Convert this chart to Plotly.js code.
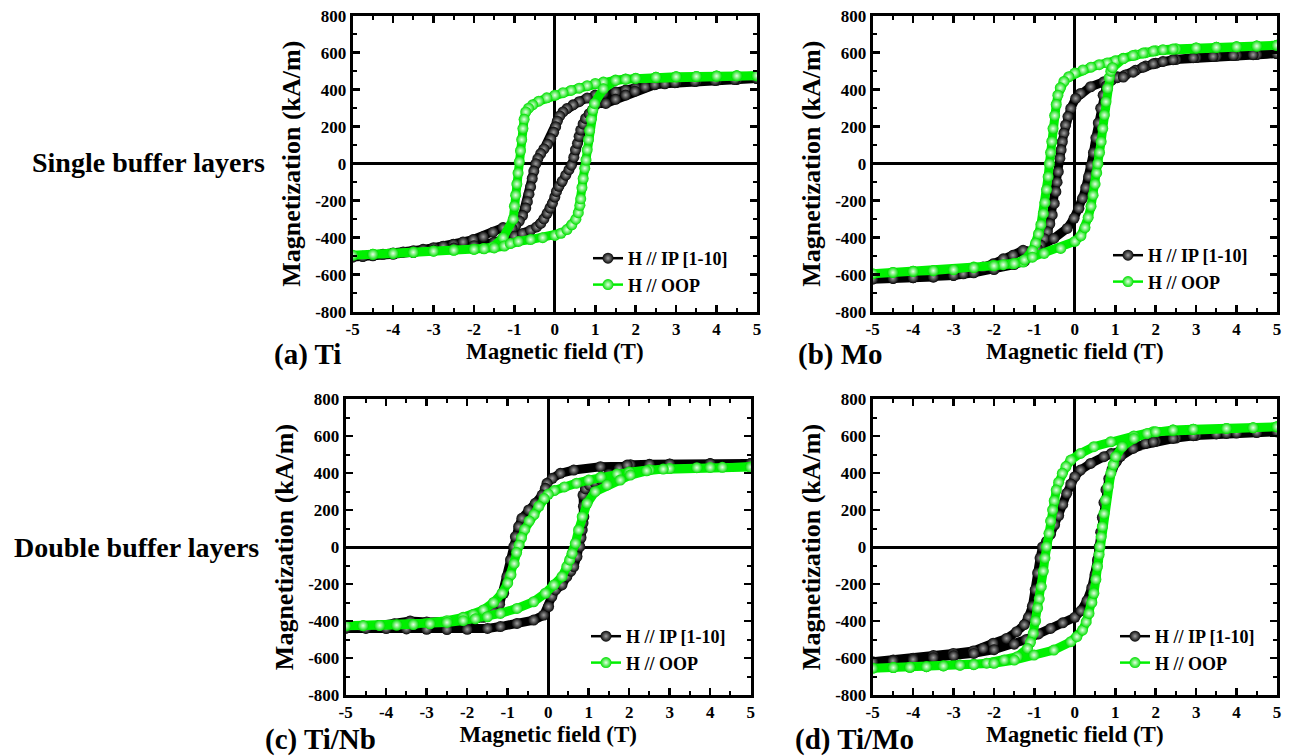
<!DOCTYPE html>
<html>
<head>
<meta charset="utf-8">
<script src="https://cdn.plot.ly/plotly-3.0.1.min.js"></script>
<style>html,body{margin:0;padding:0;background:#fff;}#chart{width:1290px;height:756px;}</style>
</head>
<body>
<div id="chart"></div>
<script>
// ---------- tick labels ----------
const xTickVals = [-5,-4,-3,-2,-1,0,1,2,3,4,5];
const xTickText = ['-5','-4','-3','-2','-1','0','1','2','3','4','5'];
const yTickVals = [-800,-600,-400,-200,0,200,400,600,800];
const yTickText = ['-800','-600','-400','-200','0','200','400','600','800'];

const seriesNames = ['H // IP [1-10]', 'H // OOP'];
const panelLabels = ['(a) Ti', '(b) Mo', '(c) Ti/Nb', '(d) Ti/Mo'];
const rowLabels = ['Single buffer layers', 'Double buffer layers'];
const xTitle = 'Magnetic field (T)';
const yTitle = 'Magnetization (kA/m)';

// ---------- (a) Ti ----------
const H_a_IP = [5,4.5,4,3.5,3,2.5,2,1.75,1.5,1.2,1.0,0.8,0.6,0.45,0.3,0.2,0.12,0.06,0.02,-0.03,-0.1,-0.18,-0.27,-0.35,-0.42,-0.47,-0.52,-0.56,-0.6,-0.64,-0.68,-0.72,-0.8,-0.88,-0.97,-1.06,-1.28,-1.53,-1.77,-2.02,-2.27,-2.51,-2.76,-3.0,-3.26,-3.5,-3.75,-4,-4.25,-4.5,-4.75,-5,
  -4.75,-4.5,-4,-3.5,-3,-2.5,-2,-1.5,-1.25,-1.0,-0.8,-0.6,-0.45,-0.35,-0.27,-0.19,-0.12,-0.06,0.0,0.04,0.1,0.18,0.27,0.35,0.41,0.47,0.51,0.56,0.6,0.64,0.7,0.76,0.85,0.93,1.05,1.26,1.5,1.75,1.98,2.23,2.47,2.72,2.97,3.46,3.96,4.45,5];
const M_a_IP = [460,455,451,446,439,430,410,398,388,380,371,355,335,318,298,280,258,230,200,170,135,105,80,55,28,0,-40,-80,-125,-165,-205,-240,-280,-310,-335,-350,-345,-370,-395,-410,-423,-436,-446,-454,-463,-470,-477,-483,-490,-495,-500,-505,
  -502,-498,-490,-480,-468,-456,-443,-425,-410,-392,-378,-360,-342,-323,-298,-268,-240,-214,-180,-150,-122,-95,-62,-32,-8,35,75,110,148,182,215,245,270,290,326,326,348,371,392,415,427,432,438,445,450,455,460];
const H_a_OOP = [5,4.5,4,3.5,3,2.5,2,1.75,1.5,1.2,1.0,0.8,0.6,0.4,0.2,0,-0.2,-0.4,-0.55,-0.65,-0.72,-0.76,-0.79,-0.82,-0.85,-0.88,-0.91,-0.94,-0.97,-1.0,-1.03,-1.28,-1.53,-1.77,-2.0,-2.5,-3,-3.5,-4,-4.5,-5,
  -4.5,-4,-3.5,-3,-2.5,-2,-1.75,-1.5,-1.25,-1.1,-0.9,-0.6,-0.3,0,0.15,0.3,0.42,0.52,0.58,0.62,0.64,0.67,0.7,0.74,0.77,0.8,0.83,0.86,0.9,0.94,0.98,1.2,1.5,1.75,2,2.5,3,3.5,4,4.5,5];
const M_a_OOP = [476,475,474,472,470,467,462,458,452,441,434,422,408,396,384,370,356,338,318,300,280,240,190,130,70,10,-50,-110,-170,-230,-300,-400,-450,-458,-462,-467,-472,-479,-485,-490,-495,
  -490,-485,-479,-473,-468,-463,-460,-455,-445,-432,-420,-410,-400,-388,-376,-356,-330,-300,-265,-225,-190,-130,-80,-25,20,75,130,180,240,290,326,405,450,456,461,467,470,472,474,475,476];

// ---------- (b) Mo ----------
const H_b_IP = [5,4.5,4,3.5,3,2.5,2,1.75,1.5,1.25,1.05,0.72,0.39,0.14,0.02,-0.1,-0.17,-0.23,-0.27,-0.31,-0.34,-0.37,-0.41,-0.44,-0.47,-0.51,-0.56,-0.62,-0.68,-0.76,-0.85,-0.95,-1.05,-1.28,-1.53,-1.77,-2.02,-2.27,-2.51,-2.76,-3,-3.5,-4,-4.49,-5,
  -4.5,-4,-3.5,-3,-2.5,-2,-1.5,-1.25,-0.93,-0.52,-0.19,-0.02,0.1,0.19,0.27,0.34,0.4,0.46,0.52,0.58,0.64,0.7,0.78,0.9,1.05,1.2,1.44,1.69,1.94,2.18,2.43,2.93,3.42,3.92,4.41,5];
const M_b_IP = [595,590,586,581,574,563,543,528,505,480,470,443,416,380,353,299,255,209,165,119,75,29,-43,-100,-151,-215,-277,-325,-368,-405,-440,-460,-476,-468,-495,-514,-541,-559,-586,-595,-604,-613,-616,-620,-624,
  -620,-616,-612,-604,-590,-572,-545,-528,-458,-404,-350,-295,-241,-187,-130,-70,-10,60,140,220,300,370,420,450,465,468,495,522,540,553,562,573,580,585,589,595];
const H_b_OOP = [5,4.5,4,3.5,3,2.5,2,1.75,1.5,1.2,1.0,0.8,0.6,0.4,0.2,0,-0.15,-0.27,-0.36,-0.42,-0.46,-0.5,-0.54,-0.57,-0.6,-0.63,-0.66,-0.7,-0.74,-0.78,-0.84,-0.9,-0.97,-1.05,-1.28,-1.53,-1.77,-2.02,-2.5,-3,-3.5,-4,-4.5,-5,
  -4.5,-4,-3.5,-3,-2.5,-2,-1.5,-1.25,-1.05,-0.76,-0.35,0,0.15,0.25,0.33,0.4,0.45,0.5,0.54,0.57,0.61,0.65,0.69,0.73,0.77,0.81,0.85,0.89,0.93,1.2,1.44,1.69,1.94,2.18,2.43,3,3.5,4,4.5,5];
const M_b_OOP = [640,636,632,629,626,621,611,600,588,570,556,545,535,522,507,490,470,445,410,370,320,260,190,120,60,0,-70,-140,-210,-270,-330,-380,-430,-470,-532,-541,-546,-550,-559,-573,-578,-582,-588,-595,
  -588,-582,-578,-573,-562,-552,-540,-520,-505,-485,-458,-420,-390,-345,-290,-230,-170,-110,-50,0,60,119,190,263,335,407,465,500,519,568,585,598,609,616,620,626,629,632,636,640];

// ---------- (c) Ti/Nb ----------
const H_c_IP = [5,4,3,2.03,1.29,0.63,0.3,0.1,-0.03,-0.07,-0.15,-0.32,-0.48,-0.65,-0.73,-0.81,-0.85,-0.93,-1.02,-1.1,-1.2,-1.35,-1.6,-2.0,-2.5,-3.0,-3.41,-3.8,-4.2,-4.6,-5,
  -4.5,-4,-3.5,-3,-2.5,-2,-1.5,-1.18,-0.77,-0.36,-0.11,0.01,0.09,0.18,0.34,0.46,0.56,0.63,0.71,0.78,0.81,0.84,0.86,0.88,0.87,0.86,0.92,1.02,1.15,1.29,1.5,1.75,1.95,2.5,3,4,5];
const M_c_IP = [452,450,447,445,434,416,398,371,344,317,281,236,200,155,110,56,2,-70,-160,-250,-310,-350,-380,-400,-405,-405,-400,-415,-425,-430,-440,
  -440,-441,-443,-445,-446,-445,-440,-430,-413,-395,-368,-322,-268,-232,-205,-160,-130,-106,-52,2,50,92,130,164,220,281,315,335,350,365,395,425,443,447,449,451,452];
const H_c_OOP = [5,4,3,2.5,2.0,1.7,1.3,1.0,0.7,0.4,0.15,0.0,-0.1,-0.23,-0.35,-0.47,-0.58,-0.66,-0.72,-0.78,-0.84,-0.92,-1.0,-1.14,-1.35,-1.6,-1.85,-2.1,-2.5,-2.92,-3.33,-3.74,-4.16,-4.57,-5,
  -4.57,-4.16,-3.74,-3.33,-2.92,-2.5,-2.1,-1.8,-1.5,-1.18,-0.77,-0.36,-0.07,0.14,0.34,0.46,0.53,0.59,0.67,0.75,0.84,0.96,1.16,1.45,1.78,2.03,2.43,2.84,3.67,4.3,5];
const M_c_OOP = [432,430,424,417,405,395,378,362,345,325,305,285,262,220,175,140,95,50,10,-30,-90,-150,-195,-250,-300,-340,-365,-380,-398,-413,-418,-422,-424,-425,-426,
  -425,-424,-422,-419,-415,-408,-398,-388,-377,-359,-332,-296,-250,-205,-160,-106,-70,-34,20,92,164,236,299,335,362,389,412,421,429,431,432];

// ---------- (d) Ti/Mo ----------
const H_d_IP = [5,4.5,4,3.5,3,2.5,2,1.75,1.44,1.13,0.9,0.72,0.39,0.14,0.0,-0.1,-0.2,-0.3,-0.4,-0.5,-0.6,-0.7,-0.8,-0.86,-0.92,-0.98,-1.05,-1.15,-1.25,-1.44,-1.69,-2.02,-2.27,-2.51,-3.01,-3.5,-4,-4.49,-5,
  -4.5,-4,-3.5,-3,-2.5,-2,-1.5,-1.2,-0.9,-0.6,-0.3,0,0.15,0.3,0.42,0.5,0.56,0.6,0.64,0.68,0.72,0.77,0.84,0.92,1.02,1.13,1.44,1.94,2.43,2.93,3.75,5];
const M_d_IP = [623,619,616,611,603,589,571,560,540,520,505,488,452,416,380,340,290,230,170,120,70,30,0,-60,-140,-230,-320,-380,-420,-458,-494,-520,-548,-562,-575,-587,-602,-611,-620,
  -615,-608,-598,-588,-575,-555,-525,-500,-470,-440,-410,-380,-345,-290,-220,-150,-70,0,80,160,240,310,370,420,460,490,533,569,587,602,614,623];
const H_d_OOP = [5,4.41,3.75,2.93,2.43,1.94,1.46,0.89,0.47,0.14,-0.1,-0.22,-0.31,-0.4,-0.46,-0.51,-0.55,-0.6,-0.64,-0.7,-0.74,-0.78,-0.83,-0.88,-0.92,-0.97,-1.03,-1.1,-1.17,-1.42,-1.75,-2.02,-2.18,-2.5,-2.84,-3.25,-3.67,-4.08,-4.49,-5,
  -4.49,-4.08,-3.67,-3.25,-2.84,-2.5,-2.0,-1.5,-1.01,-0.52,-0.1,0.05,0.19,0.28,0.35,0.42,0.47,0.52,0.56,0.6,0.62,0.65,0.68,0.72,0.76,0.82,0.89,0.95,1.01,1.17,1.46,1.79,2.0,2.43,2.93,3.75,4.41,5];
const M_d_OOP = [650,645,641,637,632,623,600,569,542,506,470,435,398,350,308,250,200,140,74,2,-60,-130,-214,-280,-330,-400,-467,-515,-548,-593,-611,-625,-628,-634,-638,-642,-647,-650,-652,-656,
  -652,-650,-647,-643,-639,-636,-629,-611,-584,-557,-512,-485,-449,-405,-359,-300,-250,-175,-106,-40,2,55,110,180,254,325,398,445,488,542,587,614,623,632,637,641,645,650];

// ---------- build ----------
const FONT = 'Liberation Serif';
const BLACK = '#000000';
const GREEN = '#00f000';

const panels = [
  {H1:H_a_IP, M1:M_a_IP, H2:H_a_OOP, M2:M_a_OOP},
  {H1:H_b_IP, M1:M_b_IP, H2:H_b_OOP, M2:M_b_OOP},
  {H1:H_c_IP, M1:M_c_IP, H2:H_c_OOP, M2:M_c_OOP},
  {H1:H_d_IP, M1:M_d_IP, H2:H_d_OOP, M2:M_d_OOP}
];
const W = 1290, Hh = 756;
// pixel boxes [left, right, top, bottom]
const boxes = [[352.7,757,15.7,311.7],[872.7,1277,15.7,311.7],[345.7,750.7,399,695],[872.7,1277,399,695]];
const legendPos = [[588,240],[1108,237],[586,618],[1115,618]];
const labelPos = [[272,354],[796,354],[263,739],[793,739]];

const traces = [];
const layout = {
  width: W, height: Hh,
  margin: {l:0, r:0, t:0, b:0},
  paper_bgcolor: '#fff', plot_bgcolor: '#fff',
  showlegend: true,
  font: {family: FONT, color: BLACK, weight: 'bold'},
  annotations: []
};

panels.forEach((p, i) => {
  const s = i === 0 ? '' : String(i + 1);
  const xa = 'x' + s, ya = 'y' + s;
  const lg = i === 0 ? 'legend' : 'legend' + (i + 1);
  const b = boxes[i];
  const common = {
    showline: true, linewidth: 3, linecolor: BLACK, mirror: 'allticks',
    ticks: 'inside', ticklen: 7, tickwidth: 2.5, tickcolor: BLACK,
    showgrid: false, zeroline: true, zerolinecolor: BLACK, zerolinewidth: 3,
    tickmode: 'array', automargin: false, fixedrange: true,
    tickfont: {family: FONT, size: 17, color: BLACK, weight: 'bold'}
  };
  layout['xaxis' + s] = Object.assign({}, common, {
    domain: [b[0] / W, b[1] / W], anchor: ya, range: [-5, 5],
    tickvals: xTickVals, ticktext: xTickText,
    minor: {ticks: 'inside', ticklen: 4, tickwidth: 2, tickcolor: BLACK, tickmode: 'linear', tick0: 0, dtick: 0.5, showgrid: false},
    title: {text: xTitle, standoff: 3, font: {family: FONT, size: 23, color: BLACK, weight: 'bold'}}
  });
  layout['yaxis' + s] = Object.assign({}, common, {
    domain: [1 - b[3] / Hh, 1 - b[2] / Hh], anchor: xa, range: [-800, 800],
    tickvals: yTickVals, ticktext: yTickText,
    minor: {ticks: 'inside', ticklen: 4, tickwidth: 2, tickcolor: BLACK, tickmode: 'linear', tick0: 0, dtick: 100, showgrid: false},
    title: {text: yTitle, standoff: 8, font: {family: FONT, size: 26, color: BLACK, weight: 'bold'}}
  });
  layout[lg] = {
    x: legendPos[i][0] / W, y: 1 - legendPos[i][1] / Hh, xanchor: 'left', yanchor: 'top',
    bgcolor: 'rgba(0,0,0,0)', borderwidth: 0, tracegroupgap: 0,
    font: {family: FONT, size: 18, color: BLACK, weight: 'bold'}
  };
  // underlay bands
  traces.push({x: p.H1, y: p.M1, xaxis: xa, yaxis: ya, type: 'scatter', mode: 'lines',
    line: {color: BLACK, width: 9, shape: 'linear'}, showlegend: false, hoverinfo: 'skip'});
  traces.push({x: p.H1, y: p.M1, xaxis: xa, yaxis: ya, type: 'scatter', mode: 'lines+markers',
    name: seriesNames[0], legend: lg,
    line: {color: BLACK, width: 2.5},
    marker: {size: 11, color: '#050505', gradient: {type: 'radial', color: '#a0a0a0'}, line: {width: 0}}});
  traces.push({x: p.H2, y: p.M2, xaxis: xa, yaxis: ya, type: 'scatter', mode: 'lines',
    line: {color: GREEN, width: 9}, showlegend: false, hoverinfo: 'skip'});
  traces.push({x: p.H2, y: p.M2, xaxis: xa, yaxis: ya, type: 'scatter', mode: 'lines+markers',
    name: seriesNames[1], legend: lg,
    line: {color: GREEN, width: 2.5},
    marker: {size: 11, color: '#00e000', gradient: {type: 'radial', color: '#e6ffe6'}, line: {width: 0}}});
  layout.annotations.push({
    text: panelLabels[i], xref: 'paper', yref: 'paper',
    x: labelPos[i][0] / W, y: 1 - labelPos[i][1] / Hh, xanchor: 'left', yanchor: 'middle',
    showarrow: false, font: {family: FONT, size: 29, color: BLACK, weight: 'bold'}
  });
});

layout.annotations.push({text: rowLabels[0], xref: 'paper', yref: 'paper', x: 148 / W, y: 1 - 163 / Hh,
  xanchor: 'center', yanchor: 'middle', showarrow: false, font: {family: FONT, size: 28, color: BLACK, weight: 'bold'}});
layout.annotations.push({text: rowLabels[1], xref: 'paper', yref: 'paper', x: 136 / W, y: 1 - 547 / Hh,
  xanchor: 'center', yanchor: 'middle', showarrow: false, font: {family: FONT, size: 28, color: BLACK, weight: 'bold'}});

Plotly.newPlot('chart', traces, layout, {staticPlot: true, displayModeBar: false});
</script>
</body>
</html>
